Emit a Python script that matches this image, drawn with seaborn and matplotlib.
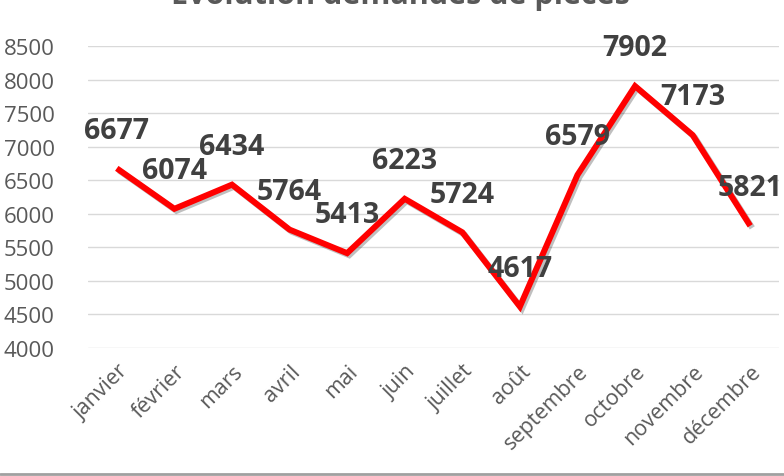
import matplotlib
matplotlib.use("Agg")
import matplotlib.pyplot as plt
import matplotlib.patheffects as pe
import seaborn as sns
import pandas as pd
from matplotlib.lines import Line2D

months = ["janvier", "février", "mars", "avril", "mai", "juin", "juillet",
          "août", "septembre", "octobre", "novembre", "décembre"]
demandes = [6677, 6074, 6434, 5764, 5413, 6223, 5724, 4617, 6579, 7902, 7173, 5821]
yticks = [4000, 4500, 5000, 5500, 6000, 6500, 7000, 7500, 8000, 8500]
title = "Évolution demandes de pièces"

sns.set_theme(style="white")
plt.rcParams['font.family'] = ['Open Sans', 'DejaVu Sans']

df = pd.DataFrame({"mois": months, "demandes": demandes})

fig = plt.figure(figsize=(7.84, 4.77), dpi=100)
ax = fig.add_axes([88/784, 1-349/477, (779-88)/784, (349-47)/477])

sns.lineplot(data=df, x="mois", y="demandes", ax=ax, color="#ff0000",
             linewidth=4.3, sort=False)
for ln in ax.lines:
    ln.set_path_effects([pe.SimpleLineShadow(offset=(1.5, -1.5), shadow_color="black", alpha=0.25),
                         pe.Normal()])
    ln.set_solid_joinstyle("miter")
    ln.set_solid_capstyle("butt")

ax.set_xlim(-0.5, len(months) - 0.5)
ax.set_ylim(4000, 8500)
ax.set_yticks(yticks)
ax.set_yticklabels([str(v) for v in yticks])
ax.yaxis.grid(True, color="#d9d9d9", linewidth=1)
ax.set_axisbelow(True)
for s in ax.spines.values():
    s.set_visible(False)
ax.tick_params(axis="both", length=0, labelsize=16, labelcolor="#595959")
ax.tick_params(axis="y", pad=24)
ax.set_xticks(range(len(months)))
ax.set_xticklabels(months, rotation=45, ha="right", rotation_mode="anchor")
ax.tick_params(axis="x", pad=9, labelsize=15.5)
ax.set_xlabel("")
ax.set_ylabel("")

for i, v in enumerate(demandes):
    ax.annotate(str(v), (i, v), xytext=(0, 27.5), textcoords="offset points",
                ha="center", va="center", fontsize=20.5, fontweight="bold",
                color="#404040")

fig.text(400/784, 1 - 4/477, title, ha="center", va="baseline",
         fontsize=22, fontweight="bold", color="#595959")

fig.add_artist(Line2D([0, 1], [1 - 475/477, 1 - 475/477], transform=fig.transFigure,
                      color="#a0a0a0", linewidth=2))

fig.savefig("out.png", dpi=100)
